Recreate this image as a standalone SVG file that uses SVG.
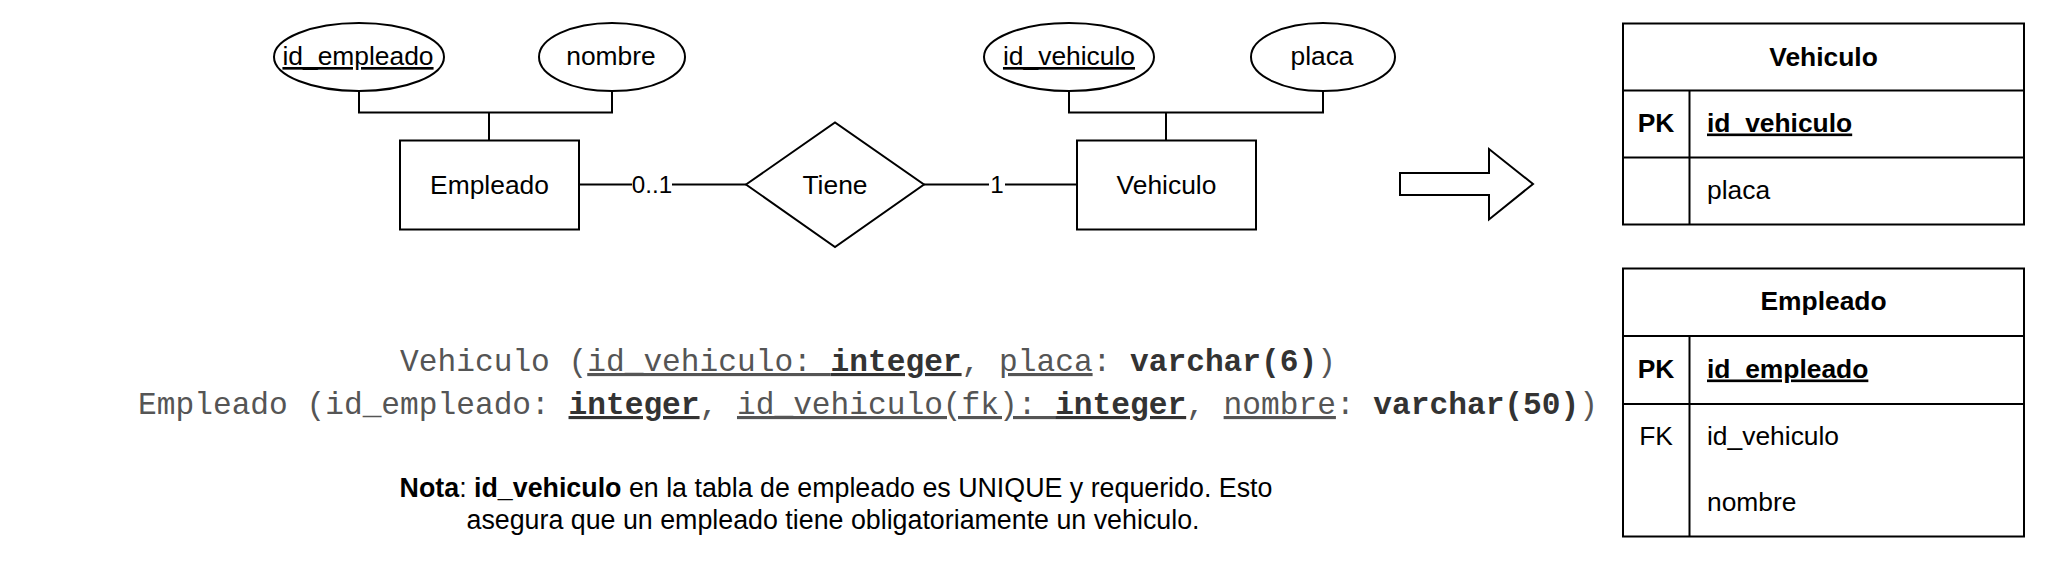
<svg xmlns="http://www.w3.org/2000/svg" width="2048" height="561" viewBox="0 0 2048 561">
<style>
.s{fill:#fff;stroke:#000;stroke-width:2}
.ln{fill:none;stroke:#000;stroke-width:2}
.t{font-family:"Liberation Sans",Arial,Helvetica,sans-serif;font-size:26.4px;fill:#000}
.c{text-anchor:middle}
.lbl{font-family:"Liberation Sans",Arial,Helvetica,sans-serif;font-size:24.2px;fill:#000;text-anchor:middle}
.b{font-weight:bold}
.u{text-decoration:underline}
.mono{font-family:"Liberation Mono","Courier New",monospace;font-size:31.2px;fill:#555;text-anchor:middle}
.mb{font-weight:bold;fill:#333}
.nt{font-size:26.8px}
</style>
<g id="connectors">
<polyline class="ln" points="359,91 359,112.5 612,112.5 612,91"/>
<line class="ln" x1="489" y1="112.5" x2="489" y2="140"/>
<polyline class="ln" points="1069,91 1069,112.5 1323,112.5 1323,91"/>
<line class="ln" x1="1166" y1="112.5" x2="1166" y2="140"/>
<line class="ln" x1="579" y1="184.5" x2="746" y2="184.5"/>
<rect x="632" y="172" width="40" height="25" fill="#fff"/>
<text class="lbl" x="652" y="192.5">0..1</text>
<line class="ln" x1="924" y1="184.5" x2="1076" y2="184.5"/>
<rect x="989" y="172" width="16" height="25" fill="#fff"/>
<text class="lbl" x="997" y="192.5">1</text>
</g>
<g id="attr-id-empleado">
<ellipse class="s" cx="359" cy="57" rx="85" ry="34"/>
<text class="t c u" x="358" y="65">id_empleado</text>
</g>
<g id="attr-nombre">
<ellipse class="s" cx="612" cy="57" rx="73" ry="34"/>
<text class="t c" x="611" y="65">nombre</text>
</g>
<g id="attr-id-vehiculo">
<ellipse class="s" cx="1069" cy="57" rx="85" ry="34"/>
<text class="t c u" x="1069" y="65">id_vehiculo</text>
</g>
<g id="attr-placa">
<ellipse class="s" cx="1323" cy="57" rx="72" ry="34"/>
<text class="t c" x="1322" y="65">placa</text>
</g>
<g id="entity-empleado">
<rect class="s" x="400" y="140.5" width="179" height="89"/>
<text class="t c" x="489.5" y="193.5">Empleado</text>
</g>
<g id="relation-tiene">
<polygon class="s" points="746,184.5 835,122.5 924,184.5 835,247"/>
<text class="t c" x="835" y="193.5">Tiene</text>
</g>
<g id="entity-vehiculo">
<rect class="s" x="1077" y="140.5" width="179" height="89"/>
<text class="t c" x="1166.5" y="193.5">Vehiculo</text>
</g>
<g id="arrow">
<polygon class="s" points="1400,173 1489,173 1489,149 1533,184 1489,219.5 1489,195 1400,195"/>
</g>
<g id="table-vehiculo">
<rect class="s" x="1623" y="23.5" width="401" height="201"/>
<line class="ln" x1="1623" y1="90.5" x2="2024" y2="90.5"/>
<line class="ln" x1="1623" y1="157.5" x2="2024" y2="157.5"/>
<line class="ln" x1="1689.5" y1="90.5" x2="1689.5" y2="224.5"/>
<text class="t c b" x="1823.5" y="65.5">Vehiculo</text>
<text class="t c b" x="1656" y="131.5">PK</text>
<text class="t b u" x="1707" y="131.5">id_vehiculo</text>
<text class="t" x="1707" y="198.5">placa</text>
</g>
<g id="table-empleado">
<rect class="s" x="1623" y="268.5" width="401" height="268"/>
<line class="ln" x1="1623" y1="336" x2="2024" y2="336"/>
<line class="ln" x1="1623" y1="404" x2="2024" y2="404"/>
<line class="ln" x1="1689.5" y1="336" x2="1689.5" y2="536.5"/>
<text class="t c b" x="1823.5" y="310">Empleado</text>
<text class="t c b" x="1656" y="377.5">PK</text>
<text class="t b u" x="1707" y="377.5">id_empleado</text>
<text class="t c" x="1656" y="444.5">FK</text>
<text class="t" x="1707" y="444.5">id_vehiculo</text>
<text class="t" x="1707" y="511">nombre</text>
</g>
<g id="schema-text">
<text class="mono" x="868" y="371" xml:space="preserve">Vehiculo (<tspan class="u">id_vehiculo: </tspan><tspan class="u mb">integer</tspan>, <tspan class="u">placa</tspan>: <tspan class="mb">varchar(6)</tspan>)</text>
<text class="mono" x="868" y="414" xml:space="preserve">Empleado (id_empleado: <tspan class="u mb">integer</tspan>, <tspan class="u">id_vehiculo(fk): </tspan><tspan class="u mb">integer</tspan>, <tspan class="u">nombre</tspan>: <tspan class="mb">varchar(50)</tspan>)</text>
</g>
<g id="note">
<text class="t c nt" x="836" y="497" xml:space="preserve"><tspan class="b">Nota</tspan>: <tspan class="b">id_vehiculo</tspan> en la tabla de empleado es UNIQUE y requerido. Esto</text>
<text class="t c nt" x="833" y="529">asegura que un empleado tiene obligatoriamente un vehiculo.</text>
</g>
</svg>
